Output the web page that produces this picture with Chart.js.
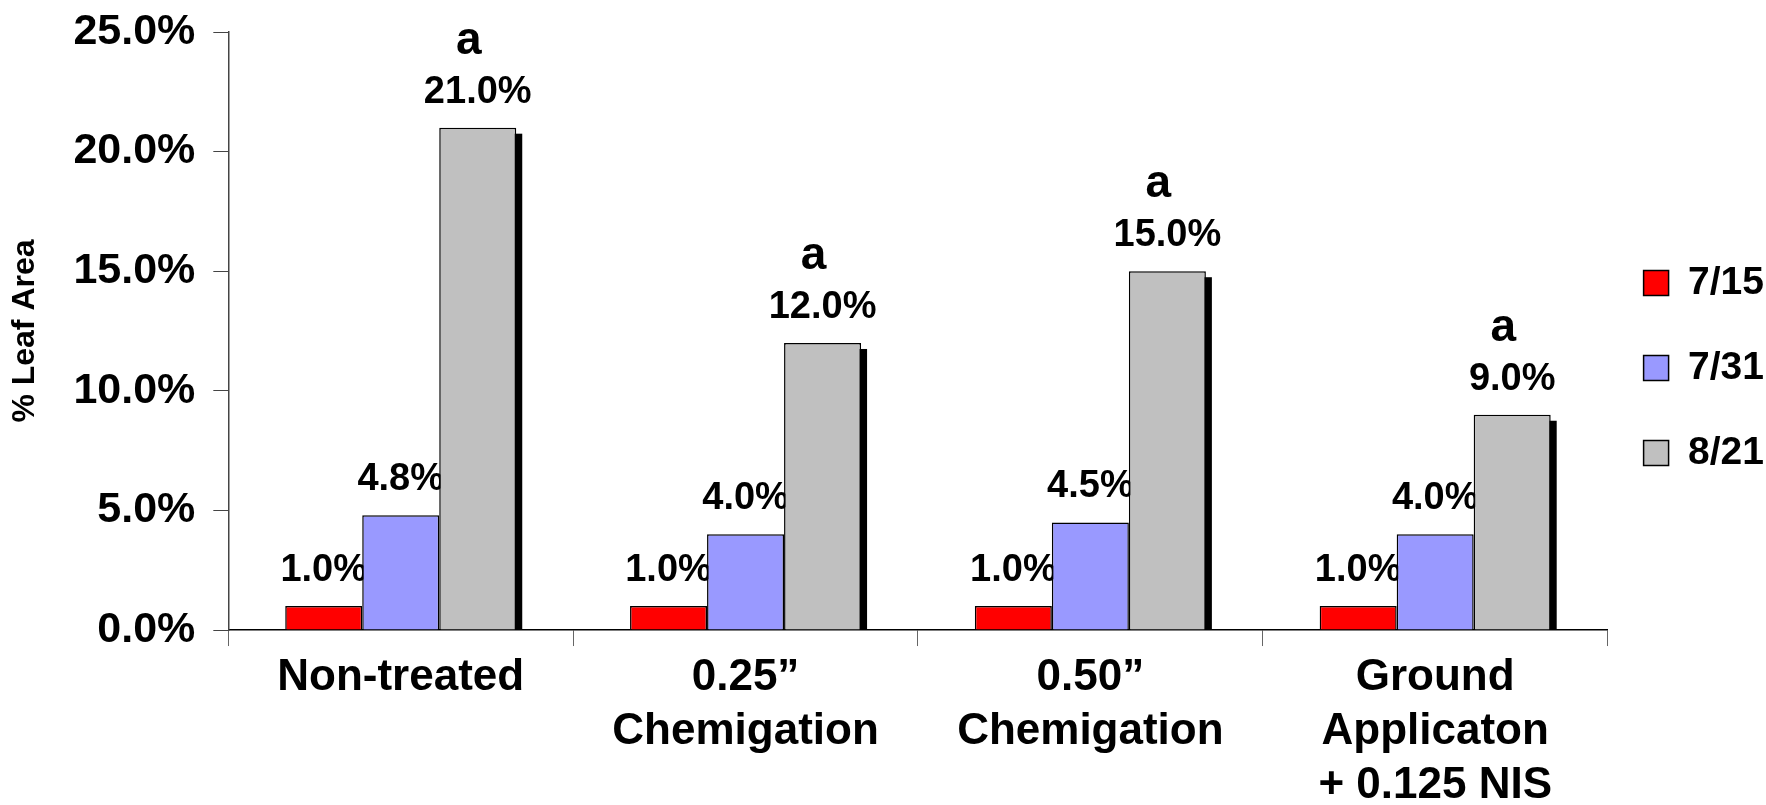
<!DOCTYPE html>
<html>
<head>
<meta charset="utf-8">
<script src="https://cdn.jsdelivr.net/npm/chart.js@4"></script>
<style>
  html, body { margin: 0; padding: 0; background: #fff; }
</style>
</head>
<body>
<canvas id="chart" width="1766" height="805"></canvas>
<script>
// data
const categories = [
  ["Non-treated"],
  ["0.25\u201d", "Chemigation"],
  ["0.50\u201d", "Chemigation"],
  ["Ground", "Applicaton", "+ 0.125 NIS"]
];
const seriesNames = ["7/15", "7/31", "8/21"];
const jul15 = [1.0, 1.0, 1.0, 1.0];
const jul31 = [4.8, 4.0, 4.5, 4.0];
const aug21 = [21.0, 12.0, 15.0, 9.0];
const aug21Letters = ["a", "a", "a", "a"];
const yMax = 25;
const yStep = 5;

const sans = "'Liberation Sans', Arial, sans-serif";

Chart.defaults.color = "#000";

// value labels, the "a" letters and the drop shadow behind the 8/21 bars
const barExtras = {
  id: "barExtras",
  beforeDatasetsDraw(chart) {
    const ctx = chart.ctx;
    const area = chart.chartArea;
    ctx.save();
    ctx.beginPath();
    ctx.rect(area.left, area.top, area.width, area.height);
    ctx.clip();
    ctx.fillStyle = "#000";
    chart.getDatasetMeta(2).data.forEach((bar) => {
      const p = bar.getProps(["x", "y", "base", "width"], true);
      ctx.fillRect(p.x - p.width / 2 + 6, p.y + 6, p.width, p.base - p.y);
    });
    ctx.restore();

    ctx.save();
    ctx.fillStyle = "#000";
    ctx.textAlign = "center";
    ctx.textBaseline = "alphabetic";
    chart.data.datasets.forEach((ds, di) => {
      chart.getDatasetMeta(di).data.forEach((bar, i) => {
        const p = bar.getProps(["x", "y"], true);
        ctx.font = "bold 38px " + sans;
        ctx.fillText(ds.data[i].toFixed(1) + "%", p.x, p.y - 25);
        if (ds.letters) {
          ctx.font = "bold 46px " + sans;
          ctx.fillText(ds.letters[i], p.x - 9, p.y - 74);
        }
      });
    });
    ctx.restore();
  },
  afterLayout(chart) {
    // nudge the legend to where it sits in the original
    const lg = chart.legend;
    lg.left -= 10;
    lg.right -= 10;
    lg.top -= 57;
    lg.bottom -= 57;
  }
};

new Chart(document.getElementById("chart"), {
  type: "bar",
  data: {
    labels: categories,
    datasets: [
      { label: seriesNames[0], data: jul15, backgroundColor: "#ff0000" },
      { label: seriesNames[1], data: jul31, backgroundColor: "#9999ff" },
      { label: seriesNames[2], data: aug21, backgroundColor: "#c0c0c0", letters: aug21Letters }
    ]
  },
  options: {
    responsive: false,
    animation: false,
    layout: { padding: { top: 32, left: 5, right: -18, bottom: -13 } },
    datasets: {
      bar: {
        borderColor: "#000",
        borderWidth: 1.5,
        categoryPercentage: 0.67,
        barPercentage: 1.0
      }
    },
    plugins: {
      tooltip: { enabled: false },
      legend: {
        position: "right",
        labels: {
          boxWidth: 25,
          boxHeight: 25,
          padding: 46,
          font: { family: sans, size: 39, weight: "bold" }
        }
      }
    },
    scales: {
      x: {
        grid: { drawOnChartArea: false, drawTicks: true, tickLength: 16, color: "#666", offset: true },
        border: { color: "#000", width: 1.5 },
        ticks: {
          autoSkip: false,
          maxRotation: 0,
          padding: 5,
          font: { family: sans, size: 44, weight: "bold", lineHeight: 1.227 }
        }
      },
      y: {
        min: 0,
        max: yMax,
        grid: { drawOnChartArea: false, tickLength: 15, color: "#444" },
        border: { color: "#444", width: 1.5 },
        ticks: {
          stepSize: yStep,
          padding: 18,
          font: { family: sans, size: 43, weight: "bold", lineHeight: 0.5 },
          callback: (v) => v.toFixed(1) + "%"
        },
        title: {
          display: true,
          text: "% Leaf Area",
          font: { family: sans, size: 32, weight: "bold" },
          padding: { top: 1, bottom: 11 }
        }
      }
    }
  },
  plugins: [barExtras]
});
</script>
</body>
</html>
